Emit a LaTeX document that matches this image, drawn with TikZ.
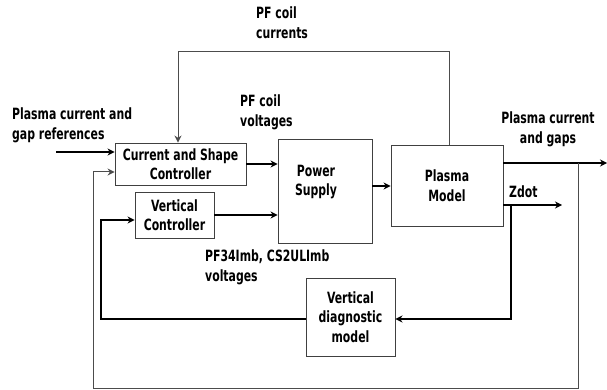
\documentclass[tikz,border=0pt]{standalone}
\usepackage{fontspec}
\setmainfont[FakeStretch=0.78]{DejaVu Sans Condensed}
\usetikzlibrary{arrows.meta}
\begin{document}
\begin{tikzpicture}[x=1pt,y=-1pt,
  box/.style={draw=black!75,line width=0.9pt,fill=white,inner sep=0pt,align=center,font=\fontsize{15.5}{19.5}\selectfont\bfseries},
  lbl/.style={inner sep=0pt,font=\fontsize{15.5}{19.5}\selectfont\bfseries},
  thick line/.style={draw=black,line width=1.6pt},
  thin line/.style={draw=black!70,line width=1pt},
  tip/.style={-{Stealth[length=7pt,width=7pt]}}
]
\useasboundingbox (0,0) rectangle (607,390);
% boxes
\node[box,minimum width=131pt,minimum height=42pt] (csc) at (180.5,164) {Current and Shape\\Controller};
\node[box,minimum width=79pt,minimum height=46pt] (vc) at (174.5,215) {Vertical\\Controller};
\node[box,minimum width=94pt,minimum height=104pt] (ps) at (325,191) {};
\node[lbl,align=center] (pstext) at (316,182) {Power\\Supply};
\node[box,minimum width=112pt,minimum height=81pt] (pm) at (447,185.5) {Plasma\\Model};
\node[box,minimum width=89pt,minimum height=78pt] (vdm) at (350.5,317) {Vertical\\diagnostic\\model};
% labels
\node[lbl,align=left,anchor=north west] (l1) at (256,7) {PF coil\\currents};
\node[lbl,align=left,anchor=north west] (l2) at (12,108) {Plasma current and\\gap references};
\node[lbl,align=left,anchor=north west] (l3) at (240,95) {PF coil\\voltages};
\node[lbl,align=center,anchor=north] (l4) at (548,112) {Plasma current\\and gaps};
\node[lbl,anchor=base west] (l5) at (509,197) {Zdot};
\node[lbl,align=left,anchor=north west] (l6) at (205,250) {PF34Imb, CS2ULImb\\voltages};
% coordinates
\coordinate (refin) at (56,152);
\coordinate (fbR) at (449,52);
\coordinate (fbL) at (178,52);
\coordinate (outend) at (607,163);
\coordinate (outv) at (578,163);
\coordinate (outbot) at (578,388);
\coordinate (outleft) at (93,388);
\coordinate (outup) at (93,172);
\coordinate (zend) at (562,205);
\coordinate (zv) at (511,205);
\coordinate (zbot) at (511,319);
\coordinate (vleft) at (101,319);
\coordinate (vup) at (101,220);
% connectors
\draw[thick line,tip] (refin) -- (refin -| csc.west);
\draw[thick line,tip] (csc.east) -- (csc.east -| ps.west);
\draw[thick line,tip] (vc.east) -- (vc.east -| ps.west);
\draw[thick line,tip] ([yshift=5pt]ps.east) -- ([yshift=5pt]ps.east -| pm.west);
\draw[thin line,tip] (fbR |- pm.north) -- (fbR) -- (fbL) -- (fbL |- csc.north);
\draw[thick line,tip] (outv -| pm.east) -- (outend);
\draw[thin line,tip] (outv) -- (outbot) -- (outleft) -- (outup) -- (outup -| csc.west);
\draw[thick line,tip] (zv -| pm.east) -- (zend);
\draw[thick line,tip] (zv) -- (zbot) -- (zbot -| vdm.east);
\draw[thick line,tip] (vleft -| vdm.west) -- (vleft) -- (vup) -- (vup -| vc.west);
\end{tikzpicture}
\end{document}
